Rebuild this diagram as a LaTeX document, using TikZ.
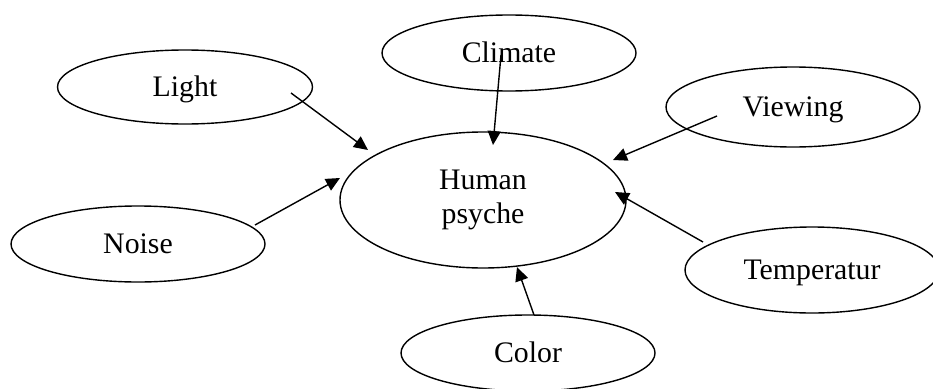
\documentclass[tikz,border=0pt]{standalone}
\usepackage{fontspec}
\setmainfont{Liberation Serif}
\usetikzlibrary{shapes.geometric,arrows.meta}
\tikzset{
  oval/.style={draw=black, line width=1.4pt, ellipse, inner sep=0pt,
    font=\fontsize{29.8}{34}\selectfont},
  single/.style={text height=19.7pt, text depth=0pt},
  conn/.style={line width=1.4pt, -{Triangle[length=14pt,width=13pt]}}
}
\begin{document}
\begin{tikzpicture}[x=1pt,y=-1pt]
\useasboundingbox (0,0) rectangle (933,388);
\node[oval,single,minimum width=254pt,minimum height=76pt] (climate) at (509,53) {Climate};
\node[oval,single,minimum width=255pt,minimum height=74pt] (light) at (185,87) {Light};
\node[oval,single,minimum width=254pt,minimum height=80pt] (viewing) at (793,107) {Viewing};
\node[oval,align=center,minimum width=286pt,minimum height=136pt] (human) at (483,200) {Human\\psyche};
\node[oval,single,minimum width=254pt,minimum height=76pt] (noise) at (138,244) {Noise};
\node[oval,single,minimum width=254pt,minimum height=86pt] (temp) at (812,270) {Temperatur};
\node[oval,single,minimum width=254pt,minimum height=76pt] (color) at (528,353) {Color};
% connector end points
\coordinate (lightA) at (291,93);   \coordinate (lightB) at (368,150);
\coordinate (climA) at (501,55);    \coordinate (climB) at (493,145);
\coordinate (viewA) at (717,116);   \coordinate (viewB) at (613,160);
\coordinate (noiseA) at (255,225);  \coordinate (noiseB) at (340,178);
\coordinate (tempA) at (703,242);   \coordinate (tempB) at (615,192);
\coordinate (colorA) at (534,315);  \coordinate (colorB) at (517,267);
\draw[conn] (lightA) -- (lightB);
\draw[conn] (climA) -- (climB);
\draw[conn] (viewA) -- (viewB);
\draw[conn] (noiseA) -- (noiseB);
\draw[conn] (tempA) -- (tempB);
\draw[conn] (colorA) -- (colorB);
\end{tikzpicture}
\end{document}
